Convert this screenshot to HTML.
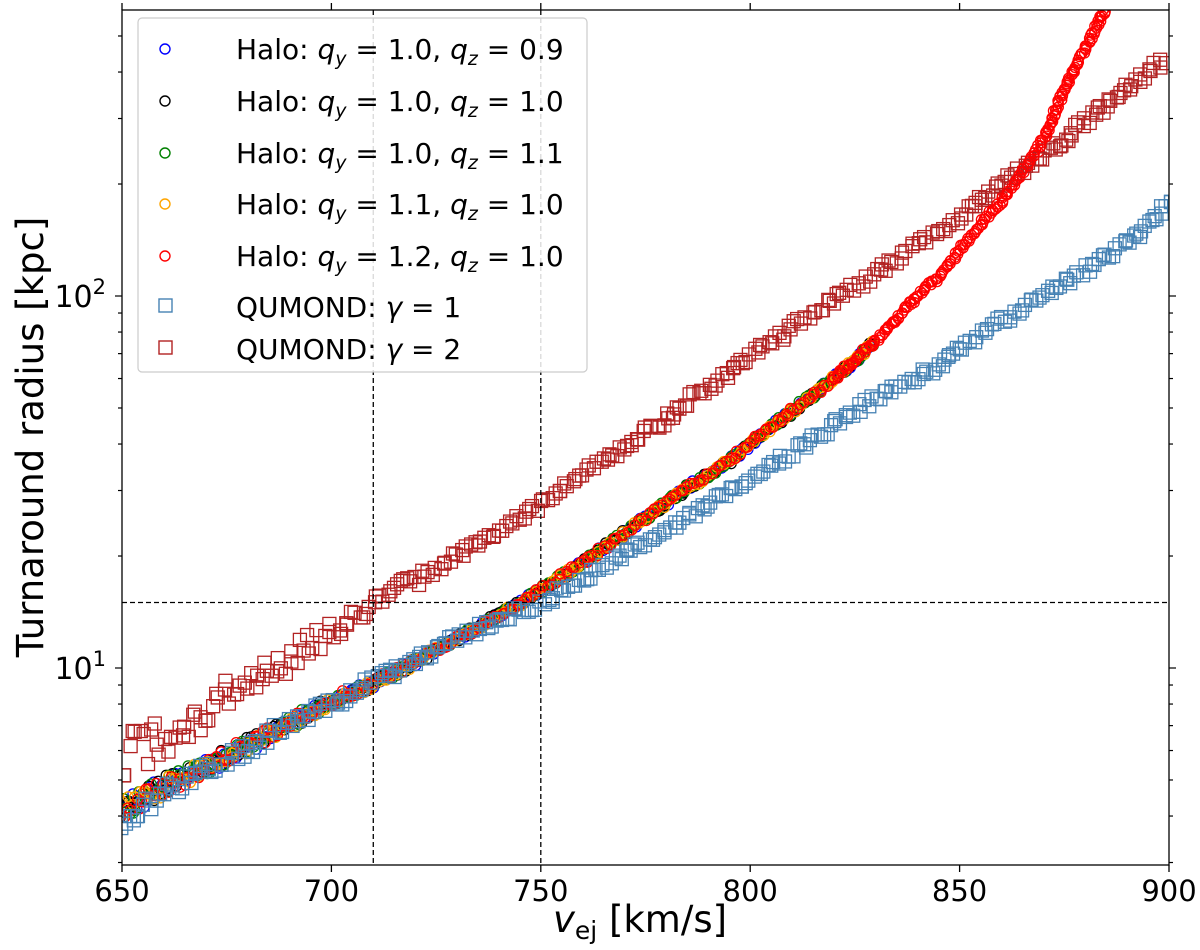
<!DOCTYPE html>
<html><head><meta charset="utf-8"><style>
body{margin:0;background:#fff;}
svg text{font-family:"DejaVu Sans","Liberation Sans",sans-serif;fill:#000;}
</style></head><body>
<svg id="chart" width="1200" height="950" xmlns="http://www.w3.org/2000/svg" style="position:absolute;left:0;top:0">
<g id="marks"></g>
<g id="axes"></g>
</svg>
<script>
const vStart = 650;
const vStep = 5;
const haloBase = [4.2,4.5,4.8,5.1,5.4,5.8,6.2,6.6,7.1,7.6,8.2,8.6,9.1,9.7,10.4,11.2,12.0,12.9,13.9,15.0,16.2,17.6,19.2,21.0,23.0,25.3,27.8,30.5,33,36,40,44.5,49,54,60,67,76,87,100,113,132,155,180,215,263,360,460,600];
const haloCounts = [37,37,37,37,48];
const haloNames = ["halo-qy1.0-qz0.9","halo-qy1.0-qz1.0","halo-qy1.0-qz1.1","halo-qy1.1-qz1.0","halo-qy1.2-qz1.0"];
const qumond1 = [3.9,4.25,4.6,4.95,5.3,5.7,6.1,6.55,7.0,7.5,8.0,8.6,9.2,9.8,10.5,11.2,12.0,12.8,13.6,14.2,14.8,16.2,17.5,18.8,20.2,21.8,23.5,25.5,27.5,30,32.5,35,38,41.5,45,49,53,57,61,65,72,79,86,93,100,108,118,128,140,155,175,195];
const qumond2 = [5.8,6.2,6.6,7.1,7.7,8.3,9.0,9.8,10.6,11.6,12.6,13.7,14.8,16.0,17.2,18.6,20.0,21.7,23.5,25.5,27.5,30,33,36,39,43,47,52,57,62,69,75,82,90,98,106,115,125,137,150,162,180,200,220,240,265,295,325,360,400,440];
const xTicks = [650,700,750,800,850,900];
const yMajor = [10,100];
const vLines = [710,750];
const hLine = 15;

const L=122,R=1169,T=10,B=865;
const X=v=>L+(v-650)/250*(R-L);
const Y=r=>668-(Math.log10(r)-1)*372;
const NS="http://www.w3.org/2000/svg";
const svg=document.getElementById('chart');
const marks=document.getElementById('marks'), axes=document.getElementById('axes');
function mk(tag,at,p){const e=document.createElementNS(NS,tag);for(const k in at)e.setAttribute(k,at[k]);p.appendChild(e);return e;}
const clip=mk('clipPath',{id:'cp'},svg);
mk('rect',{x:L,y:T,width:R-L,height:B-T},clip);
marks.setAttribute('clip-path','url(#cp)');
function hash(n){const s=Math.sin(n*12.9898+78.233)*43758.5453;return s-Math.floor(s);}

// markers drawn densely along the path through the data points (visual density only)
function series(arr,i0,n,shape,color,name,seed,amp,lowAmp){
  const g=mk('g',{},marks);
  
  
  let k=0;
  for(let i=i0;i<n-1;i++){
    const x0=X(vStart+i*vStep),y0=Y(arr[i]),x1=X(vStart+(i+1)*vStep),y1=Y(arr[i+1]);
    const len=Math.hypot(x1-x0,y1-y0);const steps=Math.max(2,Math.round(len/4));
    for(let s=0;s<steps;s++){
      const t=s/steps;const x=x0+(x1-x0)*t;const y=y0+(y1-y0)*t;
      const v=vStart+(i+t)*vStep;
      const a=amp+lowAmp*Math.max(0,(730-v)/80);
      const jx=(hash(seed+k*1.7)-0.5)*4, jy=(hash(seed+k*3.1+9)-0.5)*2*a;k++;
      let el;
      if(shape==='c') el=mk('circle',{cx:x+jx,cy:y+jy,r:5,fill:'none',stroke:color,'stroke-width':1.3},g);
      else el=mk('rect',{x:x+jx-6.5,y:y+jy-6.5,width:13,height:13,fill:'none',stroke:color,'stroke-width':1.3},g);
      
      
    }
  }
}
const haloColors=["#0000ff","#000000","#008000","#ffa500","#ff0000"];
haloColors.forEach((c,s)=>series(haloBase,0,haloCounts[s],'c',c,haloNames[s],s*101,3,8));
series(qumond1,0,qumond1.length,'s','#4682b4','qumond-gamma1',500,5,5);
series(qumond2,0,qumond2.length,'s','#b22222','qumond-gamma2',700,5,18);
series(haloBase,34,haloBase.length,'c','#ff0000','halo-red-upper',900,0,0);

vLines.forEach(v=>{const l=mk('line',{x1:X(v),x2:X(v),y1:T,y2:B,stroke:'#000','stroke-width':1.3,'stroke-dasharray':'5,3'},marks);

});
const hl=mk('line',{x1:L,x2:R,y1:Y(hLine),y2:Y(hLine),stroke:'#000','stroke-width':1.3,'stroke-dasharray':'5,3'},marks);



mk('rect',{x:L,y:T,width:R-L,height:B-T,fill:'none',stroke:'#000','stroke-width':1.3},axes);
xTicks.forEach(v=>{
  mk('line',{x1:X(v),x2:X(v),y1:B,y2:B+7,stroke:'#000','stroke-width':1.3},axes);
  mk('line',{x1:X(v),x2:X(v),y1:T,y2:T-7,stroke:'#000','stroke-width':1.3},axes);
  const t=mk('text',{x:X(v),y:B+36,'text-anchor':'middle','font-size':29},axes);t.textContent=v;
  
  
});
for(let d=1;d<=100;d*=10)for(let m=1;m<10;m++){const r=d*m;const y=Y(r);if(y<T||y>B)continue;
  const maj=(m===1);mk('line',{x1:L-(maj?7:4),x2:L,y1:y,y2:y,stroke:'#000','stroke-width':1.2},axes);
  mk('line',{x1:R,x2:R+(maj?7:4),y1:y,y2:y,stroke:'#000','stroke-width':1.2},axes);}
yMajor.forEach(r=>{const t=mk('text',{x:106,y:Y(r)+11,'text-anchor':'end','font-size':30},axes);
  t.innerHTML='10<tspan dy="-13" font-size="21">'+Math.log10(r)+'</tspan>';
  
  });
</script>
<svg width="1200" height="950" style="position:absolute;left:0;top:0">
<text x="43" y="437" font-size="37" text-anchor="middle" transform="rotate(-90 43 437)">Turnaround radius [kpc]</text>
<text x="640" y="932" font-size="37" text-anchor="middle"><tspan font-style="italic">v</tspan><tspan font-size="25" dy="7">ej</tspan><tspan dy="-7"> [km/s]</tspan></text>
<g font-size="28">
<rect x="138" y="18" width="449" height="354" rx="4" fill="#fff" fill-opacity="0.85" stroke="#ccc" stroke-width="1.2"/>
<circle cx="165" cy="49" r="5" fill="none" stroke="#0000ff" stroke-width="1.4"/><text x="236" y="59">Halo: <tspan font-style="italic">q</tspan><tspan font-size="19" dy="6" font-style="italic">y</tspan><tspan dy="-6"> = 1.0, </tspan><tspan font-style="italic">q</tspan><tspan font-size="19" dy="6" font-style="italic">z</tspan><tspan dy="-6"> = 0.9</tspan></text>
<circle cx="165" cy="101" r="5" fill="none" stroke="#000" stroke-width="1.4"/><text x="236" y="111">Halo: <tspan font-style="italic">q</tspan><tspan font-size="19" dy="6" font-style="italic">y</tspan><tspan dy="-6"> = 1.0, </tspan><tspan font-style="italic">q</tspan><tspan font-size="19" dy="6" font-style="italic">z</tspan><tspan dy="-6"> = 1.0</tspan></text>
<circle cx="165" cy="153" r="5" fill="none" stroke="#008000" stroke-width="1.4"/><text x="236" y="163">Halo: <tspan font-style="italic">q</tspan><tspan font-size="19" dy="6" font-style="italic">y</tspan><tspan dy="-6"> = 1.0, </tspan><tspan font-style="italic">q</tspan><tspan font-size="19" dy="6" font-style="italic">z</tspan><tspan dy="-6"> = 1.1</tspan></text>
<circle cx="165" cy="204" r="5" fill="none" stroke="#ffa500" stroke-width="1.4"/><text x="236" y="214">Halo: <tspan font-style="italic">q</tspan><tspan font-size="19" dy="6" font-style="italic">y</tspan><tspan dy="-6"> = 1.1, </tspan><tspan font-style="italic">q</tspan><tspan font-size="19" dy="6" font-style="italic">z</tspan><tspan dy="-6"> = 1.0</tspan></text>
<circle cx="165" cy="256" r="5" fill="none" stroke="#ff0000" stroke-width="1.4"/><text x="236" y="266">Halo: <tspan font-style="italic">q</tspan><tspan font-size="19" dy="6" font-style="italic">y</tspan><tspan dy="-6"> = 1.2, </tspan><tspan font-style="italic">q</tspan><tspan font-size="19" dy="6" font-style="italic">z</tspan><tspan dy="-6"> = 1.0</tspan></text>
<rect x="159" y="299" width="13" height="13" fill="none" stroke="#4682b4" stroke-width="1.4"/><text x="236" y="317">QUMOND: <tspan font-style="italic">γ</tspan> = 1</text>
<rect x="159" y="341" width="13" height="13" fill="none" stroke="#b22222" stroke-width="1.4"/><text x="236" y="359">QUMOND: <tspan font-style="italic">γ</tspan> = 2</text>
</g>
</svg>
</body></html>
